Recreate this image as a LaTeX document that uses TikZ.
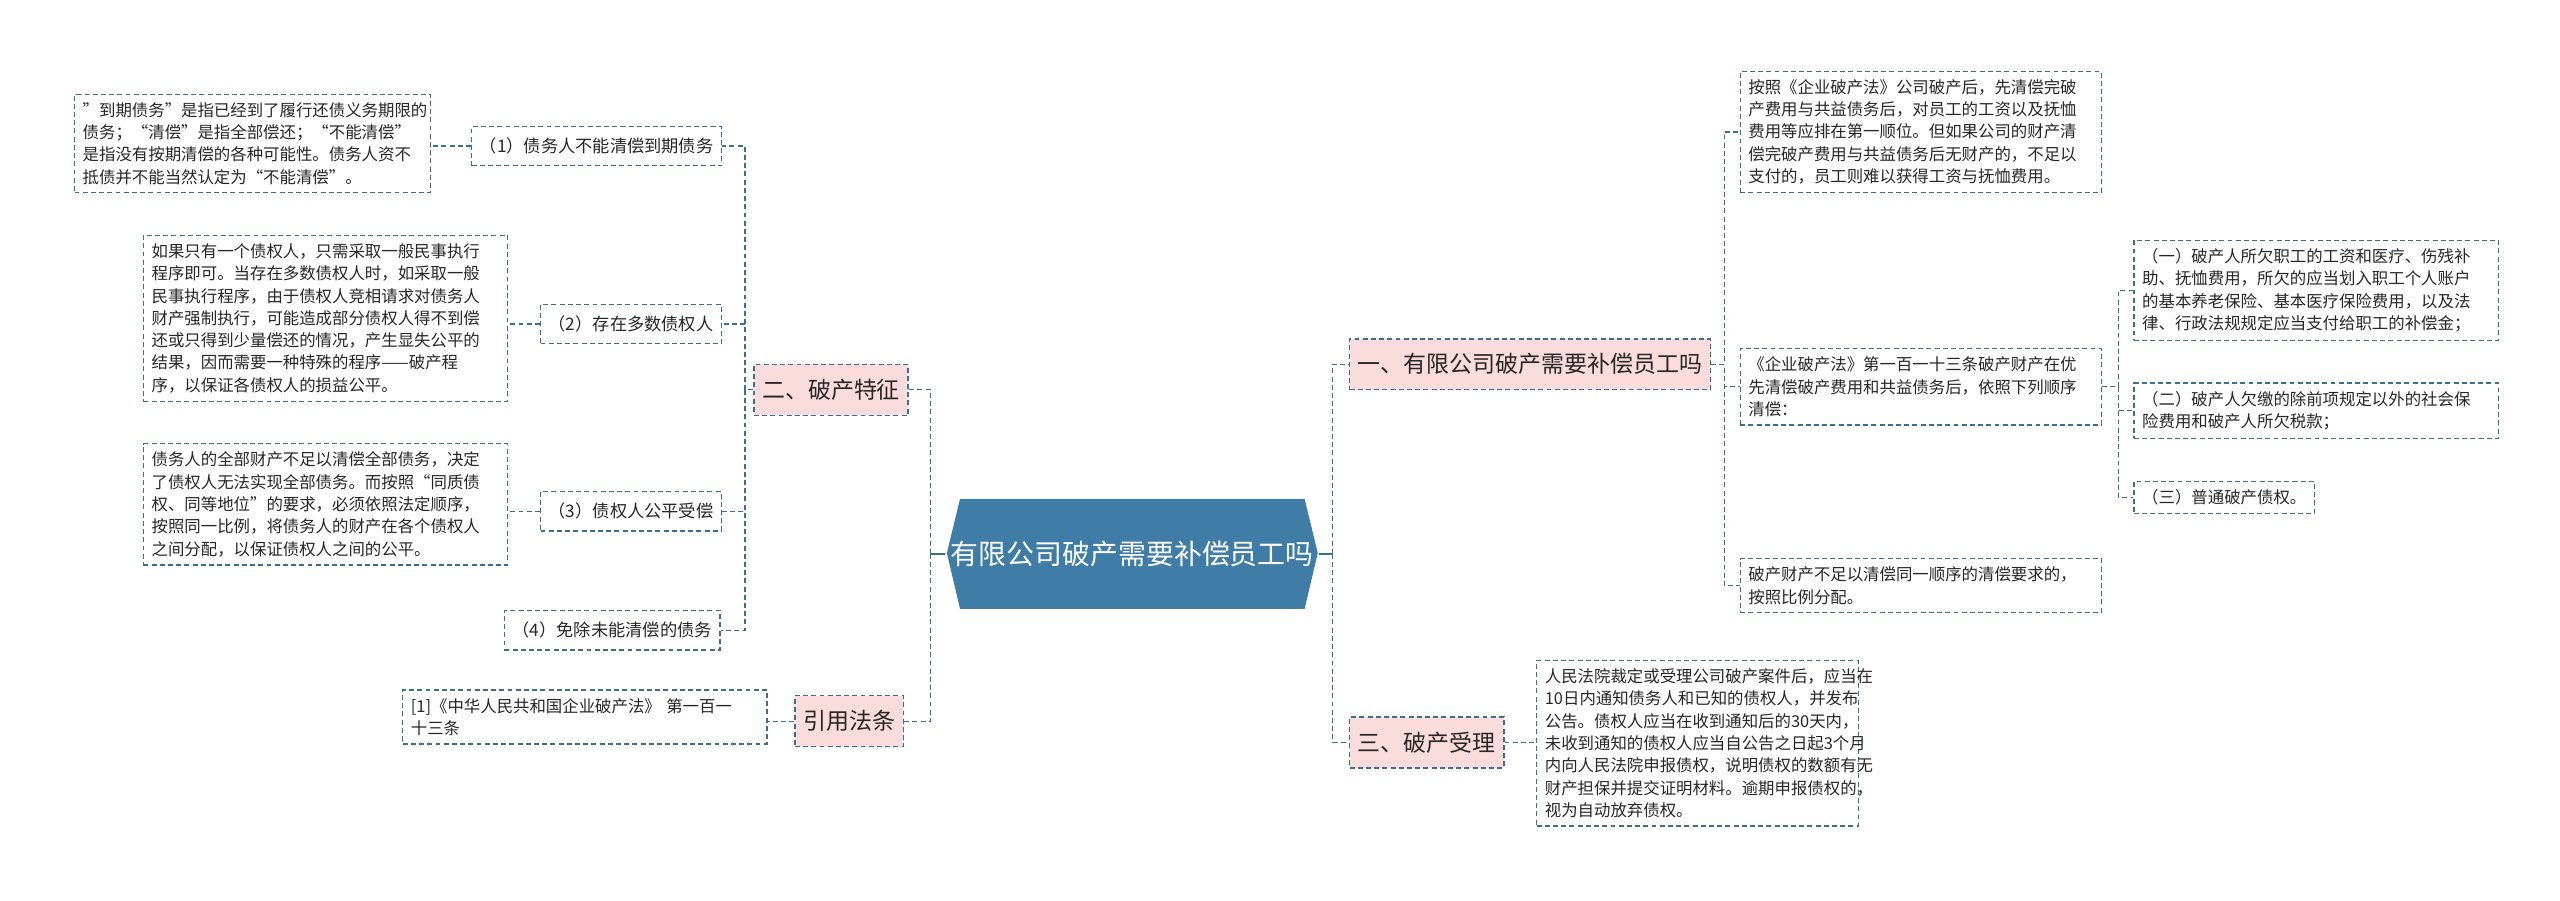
\documentclass[tikz,border=0pt]{standalone}
\usepackage{fontspec}
\setmainfont{Noto Sans CJK SC}
\definecolor{lc}{HTML}{3A6F8F}
\definecolor{pk}{HTML}{FBDCDC}
\definecolor{cb}{HTML}{3F7CA6}
\tikzset{
 bx/.style={draw=lc, dash pattern=on 3pt off 2pt, line width=0.8pt, inner xsep=5pt, inner ysep=5pt, anchor=north west, align=left, text=black!85, font=\fontsize{10}{13.6}\selectfont},
 lab/.style={bx, font=\fontsize{10.5}{13}\selectfont, minimum height=24pt, anchor=west},
 br/.style={bx, fill=pk, font=\fontsize{14}{17}\selectfont, minimum height=31pt, anchor=west},
 conn/.style={draw=lc, dash pattern=on 3pt off 2pt, line width=0.8pt},
 solidc/.style={draw=lc, line width=1.6pt}
}
\begin{document}
\begin{tikzpicture}[x=1pt,y=-1pt]
\useasboundingbox (0,0) rectangle (1560,549);
% center
\fill[cb] (577,337) -- (585,304) -- (795,304) -- (803,337) -- (795,371) -- (585,371) -- cycle;
\node[text=white, align=center, font=\fontsize{17}{24}\selectfont, minimum width=226pt, minimum height=67pt] (c) at (690,337.5) {有限公司破产需要补偿员工吗};
% left branches
\node[br] (er) at (459,237.5) {二、破产特征};
\node[br] (yy) at (484,439.5) {引用法条};
\node[lab] (c1) at (287,89) {（1）债务人不能清偿到期债务};
\node[lab] (c2) at (329,197.5) {（2）存在多数债权人};
\node[lab] (c3) at (329,311.5) {（3）债权人公平受偿};
\node[lab] (c4) at (307,384) {（4）免除未能清偿的债务};
\node[bx, text width=207pt] (d1) at (45,57) {"到期债务"是指已经到了履行还债义务期限的\\债务；“清偿”是指全部偿还；“不能清偿”\\是指没有按期清偿的各种可能性。债务人资不\\抵债并不能当然认定为“不能清偿”。};
\node[bx, text width=212pt] (d2) at (87,143) {如果只有一个债权人，只需采取一般民事执行\\程序即可。当存在多数债权人时，如采取一般\\民事执行程序，由于债权人竞相请求对债务人\\财产强制执行，可能造成部分债权人得不到偿\\还或只得到少量偿还的情况，产生显失公平的\\结果，因而需要一种特殊的程序——破产程\\序，以保证各债权人的损益公平。};
\node[bx, text width=212pt] (d3) at (87,270) {债务人的全部财产不足以清偿全部债务，决定\\了债权人无法实现全部债务。而按照“同质债\\权、同等地位”的要求，必须依照法定顺序，\\按照同一比例，将债务人的财产在各个债权人\\之间分配，以保证债权人之间的公平。};
\node[bx, text width=212pt] (law) at (245,420) {[1]《中华人民共和国企业破产法》 第一百一\\十三条};
% right branches
\node[br] (y1) at (822,222) {一、有限公司破产需要补偿员工吗};
\node[br] (y3) at (822,452.5) {三、破产受理};
\node[bx, text width=210pt] (r1) at (1060,43) {按照《企业破产法》公司破产后，先清偿完破\\产费用与共益债务后，对员工的工资以及抚恤\\费用等应排在第一顺位。但如果公司的财产清\\偿完破产费用与共益债务后无财产的，不足以\\支付的，员工则难以获得工资与抚恤费用。};
\node[bx, text width=210pt] (r2) at (1060,212) {《企业破产法》第一百一十三条破产财产在优\\先清偿破产费用和共益债务后，依照下列顺序\\清偿：};
\node[bx, text width=210pt] (r3) at (1060,340) {破产财产不足以清偿同一顺序的清偿要求的，\\按照比例分配。};
\node[bx, text width=212pt] (s1) at (1300,146) {（一）破产人所欠职工的工资和医疗、伤残补\\助、抚恤费用，所欠的应当划入职工个人账户\\的基本养老保险、基本医疗保险费用，以及法\\律、行政法规规定应当支付给职工的补偿金；};
\node[bx, text width=212pt] (s2) at (1300,233) {（二）破产人欠缴的除前项规定以外的社会保\\险费用和破产人所欠税款；};
\node[bx] (s3) at (1300,293) {（三）普通破产债权。};
\node[bx, text width=186pt] (r4) at (936,402) {人民法院裁定或受理公司破产案件后，应当在\\10日内通知债务人和已知的债权人，并发布\\公告。债权人应当在收到通知后的30天内，\\未收到通知的债权人应当自公告之日起3个月\\内向人民法院申报债权，说明债权的数额有无\\财产担保并提交证明材料。逾期申报债权的，\\视为自动放弃债权。};
% connectors
\coordinate (lb) at (567,337.5);
\coordinate (rb) at (812,337.5);
\draw[solidc] (c.west) -- (lb);
\draw[solidc] (c.east) -- (rb);
\draw[conn] (lb) |- (er.east);
\draw[conn] (lb) |- (yy.east);
\draw[conn] (rb) |- (y1.west);
\draw[conn] (rb) |- (y3.west);
\foreach \k in {c1,c2,c3,c4} \draw[conn] (er.west) -- ++(-5,0) |- (\k.east);
\draw[conn] (c1.west) -- (d1.east|-c1.west);
\draw[conn] (c2.west) -- (d2.east|-c2.west);
\draw[conn] (c3.west) -- (d3.east|-c3.west);
\draw[conn] (yy.west) -- (law.east|-yy.west);
\foreach \k in {r1,r2,r3} \draw[conn] (y1.east) -- ++(8,0) |- (\k.west);
\foreach \k in {s1,s2,s3} \draw[conn] (r2.east) -- ++(10,0) |- (\k.west);
\draw[conn] (y3.east) -- (r4.west|-y3.east);
\end{tikzpicture}
\end{document}
